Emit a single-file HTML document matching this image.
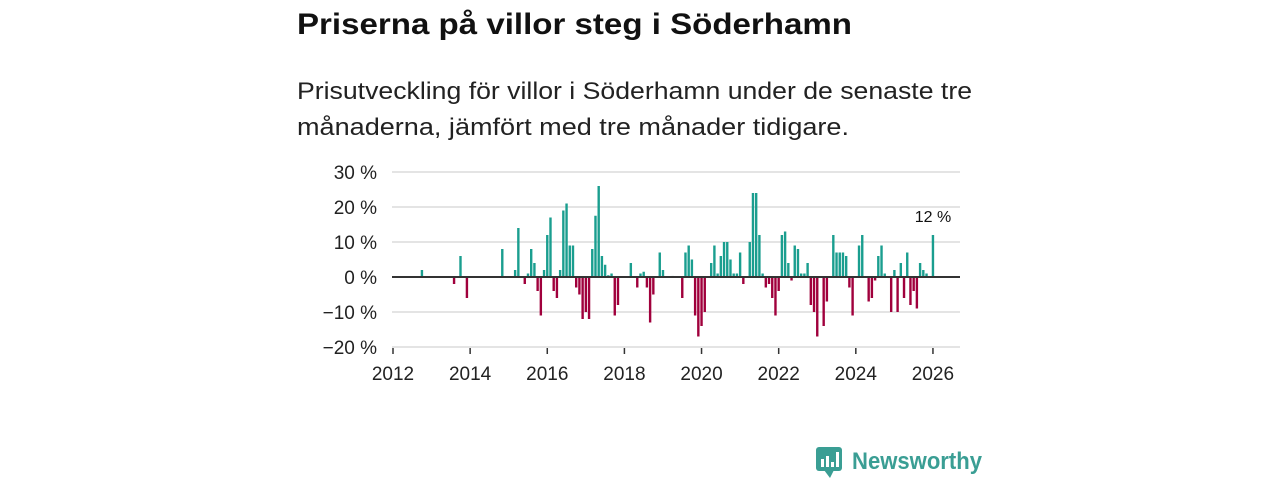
<!DOCTYPE html>
<html><head><meta charset="utf-8"><style>
html,body{margin:0;padding:0;background:#fff;}
svg{display:block;font-family:"Liberation Sans","DejaVu Sans",sans-serif;}
</style></head><body>
<svg id="chart" width="1280" height="480" viewBox="0 0 1280 480" xmlns="http://www.w3.org/2000/svg">
<text x="297" y="34" font-size="30" font-weight="bold" fill="#111" textLength="555" lengthAdjust="spacingAndGlyphs">Priserna på villor steg i Söderhamn</text>
<text x="297" y="99" font-size="24" fill="#222" textLength="675" lengthAdjust="spacingAndGlyphs">Prisutveckling för villor i Söderhamn under de senaste tre</text>
<text x="297" y="135" font-size="24" fill="#222" textLength="552" lengthAdjust="spacingAndGlyphs">månaderna, jämfört med tre månader tidigare.</text>
<g id="grid"></g><g id="bars"></g><g id="axes"></g>
<g>
<rect x="816" y="447" width="26" height="24" rx="3" fill="#3a9e94"/>
<path d="M824 470 L830 478 L834 470 Z" fill="#3a9e94"/>
<rect x="821" y="459" width="3" height="8" fill="#fff"/><rect x="826" y="456" width="3" height="11" fill="#fff"/><rect x="831" y="462" width="3" height="5" fill="#fff"/><rect x="836" y="452" width="3" height="15" fill="#fff"/>
<text x="852" y="469" font-size="24" font-weight="bold" fill="#3a9e94" textLength="130" lengthAdjust="spacingAndGlyphs">Newsworthy</text>
</g>
</svg>
<script>
const months = ["2012-10","2013-08","2013-10","2013-12","2014-11","2015-03","2015-04","2015-06","2015-07","2015-08","2015-09","2015-10","2015-11","2015-12","2016-01","2016-02","2016-03","2016-04","2016-05","2016-06","2016-07","2016-08","2016-09","2016-10","2016-11","2016-12","2017-01","2017-02","2017-03","2017-04","2017-05","2017-06","2017-07","2017-08","2017-09","2017-10","2017-11","2018-03","2018-05","2018-06","2018-07","2018-08","2018-09","2018-10","2018-12","2019-01","2019-04","2019-07","2019-08","2019-09","2019-10","2019-11","2019-12","2020-01","2020-02","2020-04","2020-05","2020-06","2020-07","2020-08","2020-09","2020-10","2020-11","2020-12","2021-01","2021-02","2021-04","2021-05","2021-06","2021-07","2021-08","2021-09","2021-10","2021-11","2021-12","2022-01","2022-02","2022-03","2022-04","2022-05","2022-06","2022-07","2022-08","2022-09","2022-10","2022-11","2022-12","2023-01","2023-03","2023-04","2023-06","2023-07","2023-08","2023-09","2023-10","2023-11","2023-12","2024-02","2024-03","2024-05","2024-06","2024-07","2024-08","2024-09","2024-10","2024-12","2025-01","2025-02","2025-03","2025-04","2025-05","2025-06","2025-07","2025-08","2025-09","2025-10","2025-11","2026-01"];
const changes = [2,-2,6,-6,8,2,14,-2,1,8,4,-4,-11,2,12,17,-4,-6,2,19,21,9,9,-3,-5,-12,-10,-12,8,17.5,26,6,3.5,0.5,1,-11,-8,4,-3,1,1.5,-3,-13,-5,7,2,0.3,-6,7,9,5,-11,-17,-14,-10,4,9,1,6,10,10,5,1,1,7,-2,10,24,24,12,1,-3,-2,-6,-11,-4,12,13,4,-1,9,8,1,1,4,-8,-10,-17,-14,-7,12,7,7,7,6,-3,-11,9,12,-7,-6,-1,6,9,1,-10,2,-10,4,-6,7,-8,-4,-9,4,2,1,12];
const yTicks = [30,20,10,0,-10,-20];
const xTickYears = [2012,2014,2016,2018,2020,2022,2024,2026];
const lastLabel = "12 %";

const NS="http://www.w3.org/2000/svg";
const x0=393, pxPerMonth=3.214, yZero=277, pxPerPct=3.5;
function xScale(m){const [y,mo]=m.split("-").map(Number);return x0+((y-2012)*12+(mo-1))*pxPerMonth;}
function xYear(y){return x0+(y-2012)*12*pxPerMonth;}
function yScale(v){return yZero-v*pxPerPct;}
function mk(tag,attrs,parent){const e=document.createElementNS(NS,tag);for(const k in attrs)e.setAttribute(k,attrs[k]);parent.appendChild(e);return e;}
const grid=document.getElementById('grid'),bars=document.getElementById('bars'),axes=document.getElementById('axes');
yTicks.forEach(t=>{
  if(t!==0){const l=mk('line',{x1:392,x2:960,y1:yScale(t),y2:yScale(t),stroke:'#dcdcdc','stroke-width':1.5},grid);
  
  }
  const tx=mk('text',{x:377,y:yScale(t)+7,'font-size':19,fill:'#222','text-anchor':'end'},axes);
  tx.textContent=(t<0?'\u2212'+(-t):t)+' %';
  
  
});
months.forEach((m,i)=>{
  const v=changes[i];const x=xScale(m);
  const r=mk('rect',{x:x-1.2,width:2.4,y:Math.min(yScale(v),yZero),height:Math.abs(yScale(v)-yZero),fill:v>=0?'#1a9e8f':'#a0003c'},bars);
  
  
});
const zl=mk('line',{x1:392,x2:960,y1:yZero,y2:yZero,stroke:'#333','stroke-width':2},axes);


xTickYears.forEach(y=>{
  const tk=mk('line',{x1:xYear(y),x2:xYear(y),y1:348,y2:354,stroke:'#333','stroke-width':1.5},axes);
  
  
  const tx=mk('text',{x:xYear(y),y:380,'font-size':19,fill:'#222','text-anchor':'middle'},axes);
  tx.textContent=y;
  
  
});
const last=months.length-1;
const ll=mk('text',{x:xScale(months[last]),y:yScale(changes[last])-13,'font-size':16,fill:'#111','text-anchor':'middle'},axes);
ll.textContent=lastLabel;


</script>
</body></html>
